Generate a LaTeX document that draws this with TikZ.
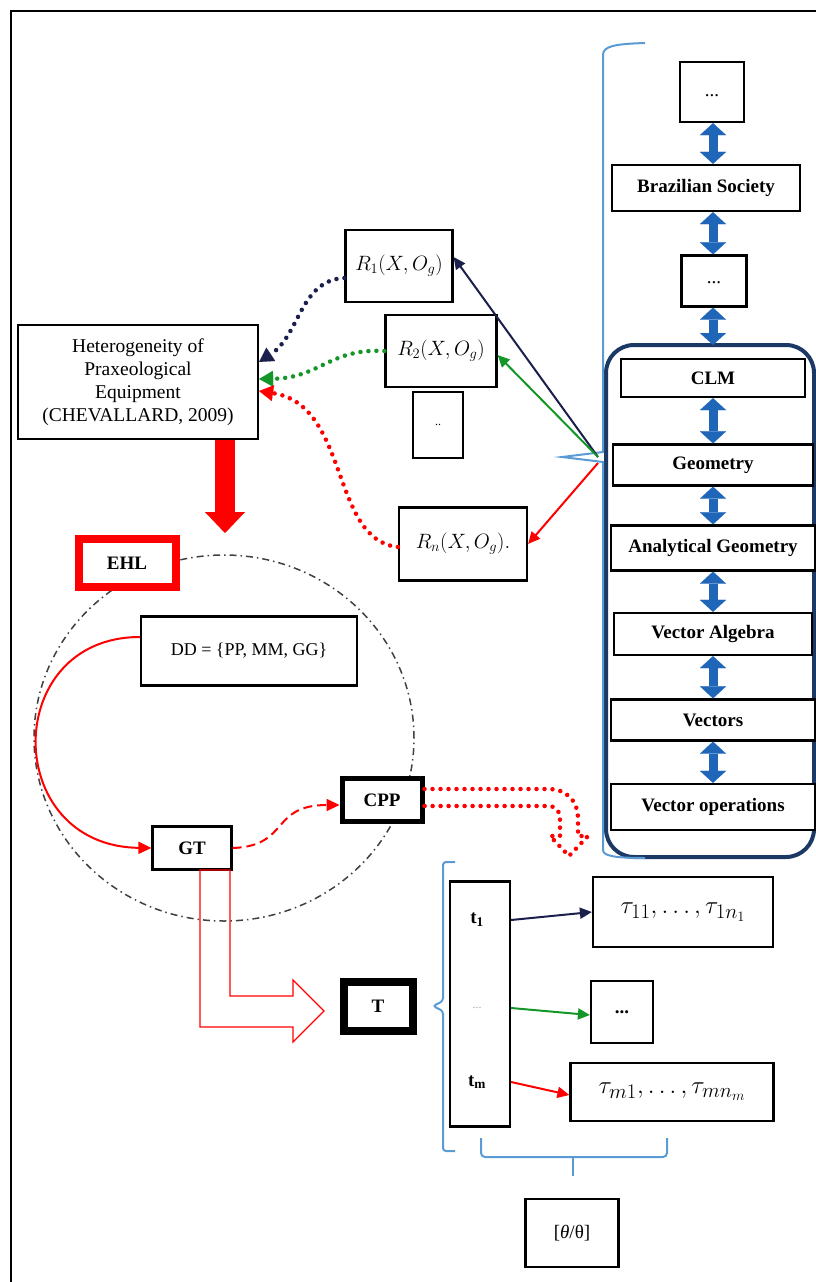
\documentclass[tikz,border=0pt]{standalone}
\usepackage{amsmath}
\usepackage{fontspec}
\setmainfont{Liberation Serif}
\usetikzlibrary{arrows.meta, calc}

\definecolor{navyline}{RGB}{27,31,75}
\definecolor{darkgreen}{RGB}{20,150,40}
\definecolor{lightblue}{RGB}{91,155,213}
\definecolor{midblue}{RGB}{32,102,184}
\definecolor{groupblue}{RGB}{28,56,100}

\begin{document}
\begin{tikzpicture}[x=1pt, y=-1pt,
    box/.style={draw, line width=2.2pt, fill=white, inner sep=1pt, font=\fontsize{19}{23}\selectfont\bfseries},
    plainbox/.style={box, font=\fontsize{19}{23}\selectfont},
    mathbox/.style={box, font=\fontsize{19.5}{22}\selectfont},
    dblarr/.style={midblue, line width=9pt,
        {Triangle[length=12pt,width=26pt,line width=0.1pt]}-{Triangle[length=12pt,width=26pt,line width=0.1pt]}},
    solidarr/.style={line width=2pt, -{Triangle[length=12pt,width=11pt]}},
    dotarr/.style={line width=4.5pt, line cap=round, dash pattern=on 0pt off 8pt,
        -{Triangle[length=14pt,width=16pt,line width=0.1pt]}},
    reddots/.style={red, line width=4.5pt, line cap=round, dash pattern=on 0pt off 8pt},
    bluebrace/.style={lightblue, line width=2pt}]

    \useasboundingbox (0,0) rectangle (816,1282);
    \clip (0,0) rectangle (816,1282);

    % Outer frame
    \draw[line width=2.5pt] (11,1300) -- (11,11) -- (830,11);

    % Dash-dot circle round the EHL part
    \draw[black!75, line width=1.5pt, dash pattern=on 7pt off 4pt on 1.5pt off 4pt]
        (224,738) ellipse [x radius=190pt, y radius=183pt];

    % Right column: levels
    \coordinate (axis) at (713,0);
    \coordinate (grouptop) at (713,345);
    \draw[groupblue, line width=4pt, rounded corners=28pt] (606,345) rectangle (814,857);

    \node[plainbox, minimum width=64pt, minimum height=60pt] (dotsa) at (712,92) {\raisebox{-10pt}{...}};
    \node[box, minimum width=188pt, minimum height=46pt] (society) at (706,188) {Brazilian Society};
    \node[plainbox, minimum width=65pt, minimum height=51pt] (dotsb) at (714,281) {\raisebox{-6pt}{...}};
    \node[box, minimum width=184pt, minimum height=38pt] (clm) at (713,378) {CLM};
    \node[box, minimum width=200pt, minimum height=41pt] (geometry) at (713,465) {Geometry};
    \node[box, minimum width=204pt, minimum height=45pt] (analytic) at (713,548) {Analytical Geometry};
    \node[box, minimum width=198pt, minimum height=42pt] (valgebra) at (713,634) {Vector Algebra};
    \node[box, minimum width=204pt, minimum height=41pt] (vectors) at (713,720) {Vectors};
    \node[box, minimum width=204pt, minimum height=46pt] (vecops) at (713,807) {Vector operations};

    \foreach \a/\b in {dotsa/society, society/dotsb, clm/geometry, geometry/analytic,
                       analytic/valgebra, valgebra/vectors, vectors/vecops}
        \draw[dblarr] (\a.south -| axis) -- (\b.north -| axis);
    \draw[dblarr] (dotsb.south -| axis) -- (grouptop);

    % Brace of the column
    \draw[bluebrace] (645,43) .. controls (615,44) and (603,46) .. (603,55) -- (603,452)
        -- (562,457) -- (603,462) -- (603,850) .. controls (603,856) and (615,858) .. (645,858);
    \coordinate (src) at (598,457);

    % Relations
    \node[mathbox, minimum width=107pt, minimum height=72pt] (rone) at (399,266) {$R_1(X,O_g)$};
    \node[mathbox, minimum width=111pt, minimum height=72pt] (rtwo) at (441,351) {$R_2(X,O_g)$};
    \node[plainbox, minimum width=50pt, minimum height=66pt, font=\fontsize{12}{14}\selectfont] (rdots) at (438,425) {..};
    \node[mathbox, minimum width=128pt, minimum height=73pt] (rn) at (463,544) {$R_n(X,O_g).$};

    \draw[solidarr, navyline] (src) -- ([yshift=9pt]rone.east);
    \draw[solidarr, darkgreen] (src) -- ([yshift=-4pt]rtwo.east);
    \draw[solidarr, red] ([yshift=-6pt]src) -- (rn.east);

    % Heterogeneity
    \node[plainbox, minimum width=240pt, minimum height=114pt, align=center,
          font=\fontsize{19.5}{23}\selectfont] (hetero) at (138,382)
        {Heterogeneity of\\ Praxeological\\ Equipment\\ (CHEVALLARD, 2009)};

    \draw[dotarr, navyline] ([yshift=-12pt]rone.west) .. controls (300,280) and (300,335) .. ([yshift=20pt]hetero.east);
    \draw[dotarr, darkgreen] (rtwo.west) .. controls (330,348) and (320,378) .. ([yshift=3pt]hetero.east);
    \draw[dotarr, red] ([yshift=-3pt]rn.west) .. controls (330,540) and (350,405) .. ([yshift=-9pt]hetero.east);

    \coordinate (ehltop) at (225,533);
    \draw[red, line width=20pt, -{Triangle[length=21pt,width=40pt,line width=0.1pt]}]
        (hetero.south -| ehltop) -- (ehltop);

    % EHL part
    \node[box, draw=red, line width=8pt, minimum width=97pt, minimum height=48pt] (ehl) at (127,563) {EHL};
    \node[plainbox, minimum width=216pt, minimum height=69pt, font=\fontsize{18}{22}\selectfont] (dd) at (249,651) {DD = \{PP, MM, GG\}};
    \node[box, minimum width=79pt, minimum height=43pt] (gt) at (192,848) {GT};
    \node[box, line width=5pt, minimum width=80pt, minimum height=43pt] (cpp) at (382,800) {CPP};

    \draw[red, line width=2pt, -{Triangle[length=13pt,width=12pt]}]
        ([yshift=14pt]dd.west) .. controls (1,637) and (1,846) .. (gt.west);
    \draw[red, line width=2pt, dash pattern=on 9pt off 5pt, -{Triangle[length=13pt,width=12pt]}]
        (gt.east) .. controls (290,846) and (270,805) .. ([yshift=-5pt]cpp.west);
    \draw[reddots] ([yshift=11pt]cpp.east) -- (548,789) .. controls (566,789) and (578,800) .. (578,819)
        -- (578,836) -- (588,836) -- (569,856) -- (550,836) -- (560,836) -- (560,820)
        .. controls (560,811) and (556,806) .. (548,806) -- ([yshift=-6pt]cpp.east);

    % Techniques
    \node[box, line width=8pt, minimum width=69pt, minimum height=49pt] (T) at (378,1006) {T};
    \draw[red, line width=1.3pt] (200,870) -- (200,1027) -- (293,1027) -- (293,1042) -- (324,1011)
        -- (293,980) -- (293,996) -- (230,996) -- (230,870) -- cycle;

    \node[box, minimum width=60pt, minimum height=245pt] (tcol) at (480,1004) {};
    \node[font=\fontsize{19}{23}\selectfont\bfseries] (tone) at (477,920) {t\textsubscript{1}};
    \node[font=\fontsize{12}{14}\selectfont, text=gray!70] (tmid) at (477,1008) {...};
    \node[font=\fontsize{19}{23}\selectfont\bfseries] (tm) at (477,1082) {t\textsubscript{m}};

    \node[box, minimum width=180pt, minimum height=70pt, font=\fontsize{31}{34}\selectfont] (tauone) at (683,912)
        {$\tau_{11}, \ldots, \tau_{1n_1}$};
    \node[box, minimum width=62pt, minimum height=62pt] (taudots) at (622,1012) {...};
    \node[box, minimum width=203pt, minimum height=58pt, font=\fontsize{30}{33}\selectfont] (taum) at (672,1092)
        {$\tau_{m1}, \ldots, \tau_{mn_m}$};

    \draw[solidarr, navyline] (tcol.east |- tone) -- (tauone.west);
    \draw[solidarr, darkgreen] (tcol.east |- tmid) -- ([yshift=-3pt]taudots.west);
    \draw[solidarr, red] (tcol.east |- tm) -- ([yshift=-3pt]taum.west);

    % Brackets round the techniques
    \draw[bluebrace, rounded corners=3pt] (455,862) -- (443,862) -- (443,1001) -- (433,1006)
        -- (443,1011) -- (443,1151) -- (455,1151);
    \draw[bluebrace, rounded corners=4pt] (481,1138) -- (481,1157) -- (667,1157) -- (667,1138);
    \draw[bluebrace] (573,1157) -- (573,1176);

    \node[plainbox, minimum width=93pt, minimum height=68pt] (theta) at (572,1233) {[\textit{θ}/θ]};
\end{tikzpicture}
\end{document}
